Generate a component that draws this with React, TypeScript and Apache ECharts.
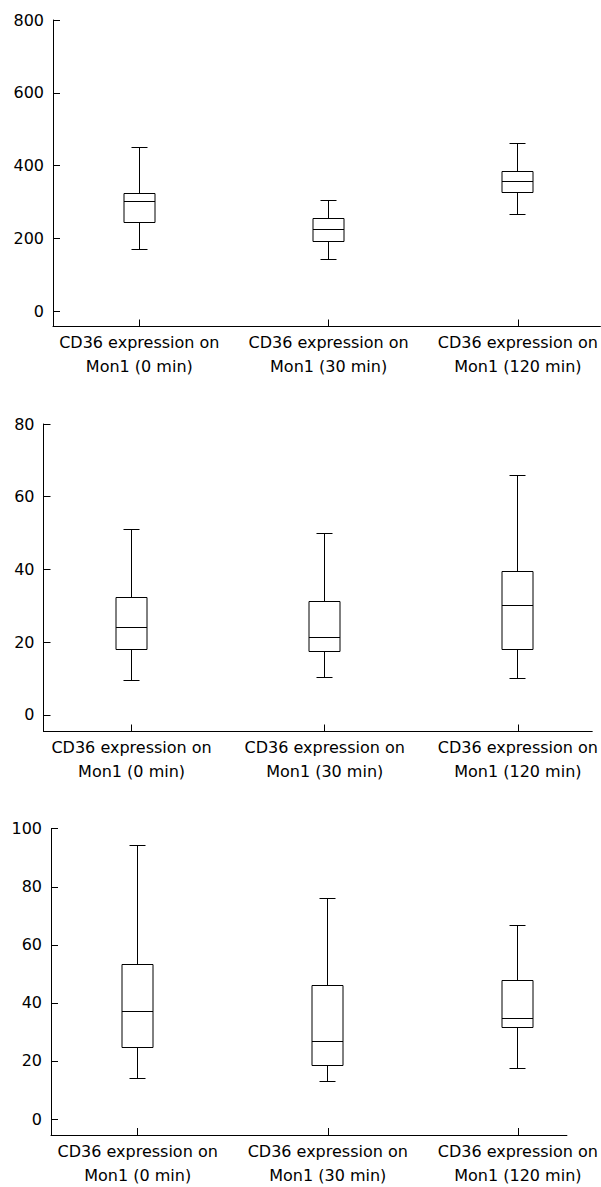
import React, { useEffect, useRef } from "react";
import * as echarts from "echarts";

const categories = [
  "CD36 expression on\nMon1 (0 min)",
  "CD36 expression on\nMon1 (30 min)",
  "CD36 expression on\nMon1 (120 min)",
];

// Panel 1
const p1Min = [170, 141, 264];
const p1Q1 = [242, 190, 325];
const p1Median = [301, 225, 355];
const p1Q3 = [323, 253, 383];
const p1Max = [449, 303, 460];
const p1Ticks = [0, 200, 400, 600, 800];

// Panel 2
const p2Min = [9.4, 10.3, 10.1];
const p2Q1 = [18.1, 17.3, 17.9];
const p2Median = [24.0, 21.3, 30.1];
const p2Q3 = [32.4, 31.2, 39.4];
const p2Max = [50.9, 50.0, 65.7];
const p2Ticks = [0, 20, 40, 60, 80];

// Panel 3
const p3Min = [14.0, 13.0, 17.5];
const p3Q1 = [24.5, 18.6, 31.6];
const p3Median = [37.1, 26.7, 34.6];
const p3Q3 = [53.2, 45.9, 47.8];
const p3Max = [94.2, 76.1, 66.5];
const p3Ticks = [0, 20, 40, 60, 80, 100];

const FONT = "DejaVu Sans";
const INK = "#000";

type Panel = {
  min: number[]; q1: number[]; med: number[]; q3: number[]; max: number[];
  ticks: number[];
  left: number; top: number; width: number; height: number;
  yMin: number; xMax: number;
};

const panels: Panel[] = [
  { min: p1Min, q1: p1Q1, med: p1Median, q3: p1Q3, max: p1Max, ticks: p1Ticks,
    left: 53, top: 20, width: 560, height: 306.5, yMin: -42.6, xMax: 2.436 },
  { min: p2Min, q1: p2Q1, med: p2Median, q3: p2Q3, max: p2Max, ticks: p2Ticks,
    left: 43.5, top: 424, width: 549.5, height: 307.5, yMin: -4.59, xMax: 2.385 },
  { min: p3Min, q1: p3Q1, med: p3Median, q3: p3Q3, max: p3Max, ticks: p3Ticks,
    left: 51, top: 828.7, width: 526, height: 307.3, yMin: -5.49, xMax: 2.258 },
];

const crisp = (v: number) => Math.round(v - 0.5) + 0.5;

function renderBox(params: any, api: any) {
  const x = api.value(0);
  const cx = crisp(api.coord([x, 0])[0]);
  const y = (i: number) => crisp(api.coord([x, api.value(i)])[1]);
  const yMin = y(1), yQ1 = y(2), yMed = y(3), yQ3 = y(4), yMax = y(5);
  const bw = 31, cw = 16;
  const ls = { stroke: INK, lineWidth: 1, fill: null };
  return {
    type: "group",
    children: [
      { type: "line", shape: { x1: cx, y1: yMax, x2: cx, y2: yQ3 }, style: ls },
      { type: "line", shape: { x1: cx, y1: yQ1, x2: cx, y2: yMin }, style: ls },
      { type: "line", shape: { x1: cx - cw / 2, y1: yMax, x2: cx + cw / 2, y2: yMax }, style: ls },
      { type: "line", shape: { x1: cx - cw / 2, y1: yMin, x2: cx + cw / 2, y2: yMin }, style: ls },
      { type: "rect", shape: { x: cx - bw / 2, y: yQ3, width: bw, height: yQ1 - yQ3 },
        style: { stroke: INK, lineWidth: 1, fill: "#fff" } },
      { type: "line", shape: { x1: cx - bw / 2, y1: yMed, x2: cx + bw / 2, y2: yMed }, style: ls },
    ],
  };
}

export default function App() {
  const ref = useRef<HTMLDivElement>(null);
  useEffect(() => {
    if (!ref.current) return;
    const chart = echarts.init(ref.current, null, { renderer: "svg" });
    const grid: any[] = [];
    const xAxis: any[] = [];
    const yAxis: any[] = [];
    const series: any[] = [];
    panels.forEach((p, k) => {
      grid.push({ left: p.left, top: p.top, width: p.width, height: p.height, containLabel: false });
      xAxis.push({
        type: "value",
        gridIndex: k,
        min: -0.456,
        max: p.xMax,
        axisLine: { show: true, onZero: false, lineStyle: { color: INK, width: 1 } },
        axisTick: { show: true, inside: true, length: 7, lineStyle: { color: INK }, customValues: [0, 1, 2] },
        axisLabel: {
          show: true,
          customValues: [0, 1, 2],
          formatter: (v: number) => categories[Math.round(v)] ?? "",
          fontFamily: FONT,
          fontSize: 16,
          color: INK,
          lineHeight: 24,
          margin: 4,
        },
        splitLine: { show: false },
      });
      yAxis.push({
        type: "value",
        gridIndex: k,
        min: p.yMin,
        max: p.ticks[p.ticks.length - 1],
        axisLine: { show: true, onZero: false, lineStyle: { color: INK, width: 1 } },
        axisTick: { show: true, inside: true, length: 7, lineStyle: { color: INK }, customValues: p.ticks },
        axisLabel: {
          show: true,
          customValues: p.ticks,
          fontFamily: FONT,
          fontSize: 16,
          color: INK,
          margin: 9,
        },
        splitLine: { show: false },
      });
      series.push({
        type: "custom",
        xAxisIndex: k,
        yAxisIndex: k,
        renderItem: renderBox,
        encode: { x: 0, y: [1, 2, 3, 4, 5] },
        data: categories.map((_, i) => [i, p.min[i], p.q1[i], p.med[i], p.q3[i], p.max[i]]),
      });
    });
    chart.setOption({
      animation: false,
      backgroundColor: "#fff",
      textStyle: { fontFamily: FONT },
      grid,
      xAxis,
      yAxis,
      series,
    });
    return () => chart.dispose();
  }, []);
  return (
    <div
      ref={ref}
      style={{ position: "absolute", left: 0, top: 0, width: 601, height: 1187 }}
    />
  );
}
